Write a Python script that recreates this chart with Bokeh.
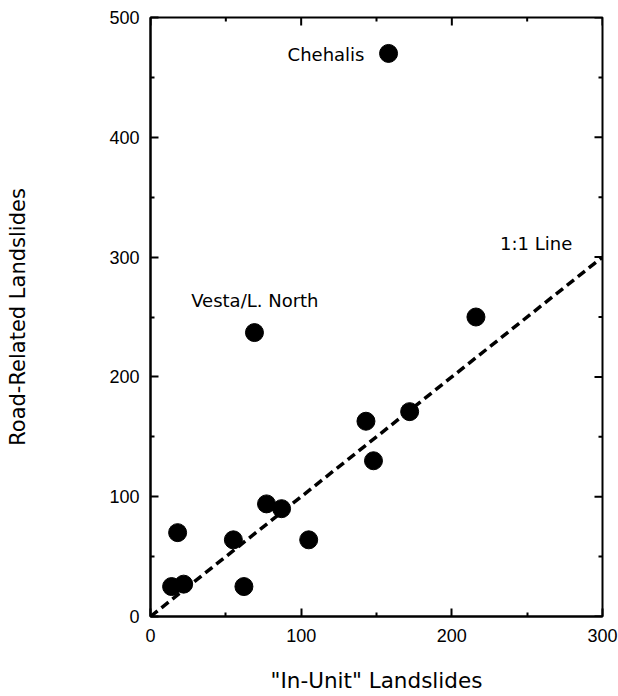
import math
from bokeh.plotting import figure
from bokeh.models import Range1d, FixedTicker, Label, ColumnDataSource
from bokeh.embed import file_html
from bokeh.resources import INLINE

# Data
in_unit = [14, 22, 18, 55, 62, 69, 77, 87, 105, 143, 148, 172, 216, 158]
road_related = [25, 27, 70, 64, 25, 237, 94, 90, 64, 163, 130, 171, 250, 470]
one_to_one_x = [0, 300]
one_to_one_y = [0, 300]
x_ticks = [0, 100, 200, 300]
x_minor = [50, 150, 250]
y_ticks = [0, 100, 200, 300, 400, 500]
y_minor = [50, 150, 250, 350, 450]
x_max = 300
y_max = 500

TICK_FONT = "Liberation Sans"
LABEL_FONT = "DejaVu Sans"

p = figure(width=618, height=696, output_backend="svg", toolbar_location=None,
           x_range=Range1d(0, x_max), y_range=Range1d(0, y_max),
           min_border_left=150, min_border_right=16, min_border_top=17, min_border_bottom=80)
p.grid.visible = False
p.outline_line_color = "black"
p.outline_line_width = 2
p.background_fill_color = "white"
p.border_fill_color = "white"

def style_axis(ax, ticks, minor):
    ax.ticker = FixedTicker(ticks=ticks, minor_ticks=minor)
    ax.axis_line_width = 2
    ax.axis_line_color = "black"
    ax.major_tick_in = 8
    ax.major_tick_out = 0
    ax.minor_tick_in = 4
    ax.minor_tick_out = 0
    ax.major_tick_line_width = 2
    ax.minor_tick_line_width = 2
    ax.major_tick_line_color = "black"
    ax.minor_tick_line_color = "black"
    ax.major_label_text_font = TICK_FONT
    ax.major_label_text_font_size = "18px"
    ax.major_label_text_color = "black"

xa = p.xaxis[0]
style_axis(xa, x_ticks, x_minor)
xa.major_label_standoff = 12
xa.axis_label = '"In-Unit" Landslides'
xa.axis_label_text_font = LABEL_FONT
xa.axis_label_text_font_size = "21.5px"
xa.axis_label_text_font_style = "normal"
xa.axis_label_text_color = "black"
xa.axis_label_standoff = 23

ya = p.yaxis[0]
style_axis(ya, y_ticks, y_minor)
ya.major_label_standoff = 11
ya.axis_label = "Road-Related Landslides"
ya.axis_label_text_font = LABEL_FONT
ya.axis_label_text_font_size = "21px"
ya.axis_label_text_font_style = "normal"
ya.axis_label_text_color = "black"
ya.axis_label_standoff = 76

# inward ticks on the top and right frame edges (glyphs clipped to the frame)
p.scatter(x_ticks, [y_max] * len(x_ticks), marker="dash", angle=math.pi / 2, size=16,
          line_color="black", line_width=2)
p.scatter(x_minor, [y_max] * len(x_minor), marker="dash", angle=math.pi / 2, size=8,
          line_color="black", line_width=2)
p.scatter([x_max] * len(y_ticks), y_ticks, marker="dash", size=16,
          line_color="black", line_width=2)
p.scatter([x_max] * len(y_minor), y_minor, marker="dash", size=8,
          line_color="black", line_width=2)

# 1:1 line
p.line(one_to_one_x, one_to_one_y, line_color="black", line_width=3.5, line_dash="9 5")

# points
src = ColumnDataSource(dict(x=in_unit, y=road_related))
p.scatter("x", "y", source=src, size=18, fill_color="black", line_color="black")

for txt, lx, ly in [("Chehalis", 91, 469), ("Vesta/L. North", 27, 264), ("1:1 Line", 232, 311)]:
    p.add_layout(Label(x=lx, y=ly, text=txt, text_font=LABEL_FONT, text_font_size="18px",
                       text_align="left", text_baseline="middle", text_color="black"))

open("out.html", "w").write(file_html(p, INLINE))
